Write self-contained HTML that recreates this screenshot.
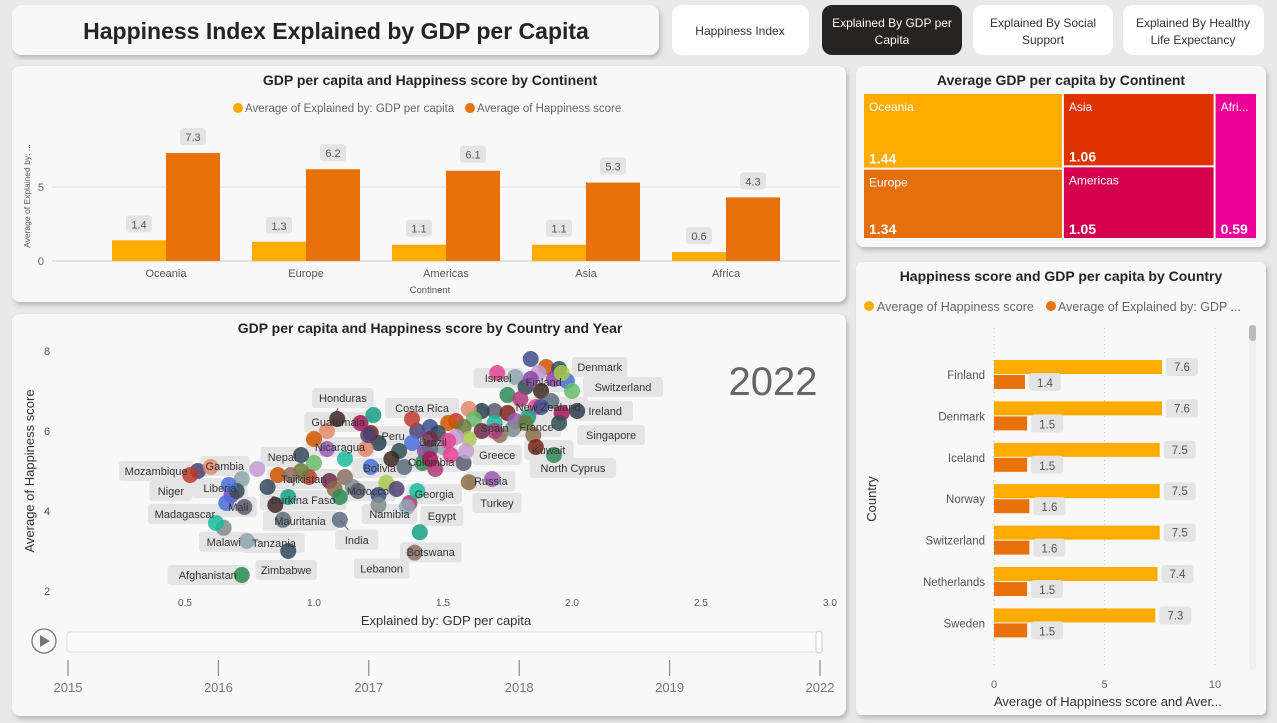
<!DOCTYPE html>
<html><head><meta charset="utf-8">
<style>
html,body{margin:0;padding:0;background:#e9e9e9;width:1277px;height:723px;overflow:hidden;font-family:"Liberation Sans",sans-serif;}
svg{display:block}
text{font-family:"Liberation Sans",sans-serif}
</style></head>
<body>
<svg id="page" width="1277" height="723" viewBox="0 0 1277 723">
<defs>
<filter id="sh" x="-5%" y="-5%" width="110%" height="115%"><feDropShadow dx="2" dy="3" stdDeviation="2.5" flood-color="#000" flood-opacity="0.22"/></filter>
</defs>
<!-- header -->
<g>
<rect x="12" y="5" width="647" height="50" rx="10" fill="#f8f8f8" filter="url(#sh)"/>
<text x="336" y="39" text-anchor="middle" font-size="23" font-weight="bold" fill="#252423">Happiness Index Explained by GDP per Capita</text>
</g>
<g>
<rect x="672" y="5" width="137" height="50" rx="10" fill="#fff"/>
<text x="740" y="35" text-anchor="middle" font-size="12" fill="#333">Happiness Index</text>
</g>
<g>
<rect x="822" y="5" width="140" height="50" rx="10" fill="#252423"/>
<text x="892" y="27" text-anchor="middle" font-size="12" fill="#fff">Explained By GDP per</text>
<text x="892" y="44" text-anchor="middle" font-size="12" fill="#fff">Capita</text>
</g>
<g>
<rect x="973" y="5" width="140" height="50" rx="10" fill="#fff"/>
<text x="1043" y="27" text-anchor="middle" font-size="12" fill="#333">Explained By Social</text>
<text x="1043" y="44" text-anchor="middle" font-size="12" fill="#333">Support</text>
</g>
<g>
<rect x="1123" y="5" width="141" height="50" rx="10" fill="#fff"/>
<text x="1193" y="27" text-anchor="middle" font-size="12" fill="#333">Explained By Healthy</text>
<text x="1193" y="44" text-anchor="middle" font-size="12" fill="#333">Life Expectancy</text>
</g>

<!-- cards -->
<rect x="12" y="66" width="834" height="236" rx="8" fill="#f8f8f8" filter="url(#sh)"/>
<rect x="12" y="314" width="834" height="402" rx="8" fill="#f8f8f8" filter="url(#sh)"/>
<rect x="856" y="66" width="410" height="181" rx="8" fill="#f8f8f8" filter="url(#sh)"/>
<rect x="856" y="262" width="410" height="453" rx="6" fill="#f8f8f8" filter="url(#sh)"/>

<g id="barChart">
<text x="430" y="85" text-anchor="middle" font-size="14" font-weight="bold" fill="#252423">GDP per capita and Happiness score by Continent</text>
<g>
<circle cx="238" cy="108" r="5" fill="#FFAB00"/><text x="245" y="112" font-size="11.5" fill="#666">Average of Explained by: GDP per capita</text>
<circle cx="470" cy="108" r="5" fill="#E8710A"/><text x="477" y="112" font-size="11.5" fill="#666">Average of Happiness score</text>
</g>
<text transform="translate(30,196) rotate(-90)" text-anchor="middle" font-size="8.5" fill="#555">Average of Explained by: ...</text>
<text x="430" y="293" text-anchor="middle" font-size="9.5" fill="#555">Continent</text>
</g>

<g id="treemap">
<text x="1061" y="85" text-anchor="middle" font-size="14" font-weight="bold" fill="#252423">Average GDP per capita by Continent</text>
</g>

<g id="scatter">
<text x="430" y="333" text-anchor="middle" font-size="14" font-weight="bold" fill="#252423">GDP per capita and Happiness score by Country and Year</text>
<text transform="translate(34,471) rotate(-90)" text-anchor="middle" font-size="13" fill="#333">Average of Happiness score</text>
<text x="446" y="625" text-anchor="middle" font-size="13" fill="#333">Explained by: GDP per capita</text>
<text x="773" y="395" text-anchor="middle" font-size="40" fill="#666">2022</text>
<g>
<circle cx="44" cy="641" r="12" fill="none" stroke="#777" stroke-width="1.3"/>
<path d="M40 635 L50 641 L40 647Z" fill="#777"/>
<rect x="67" y="632" width="753" height="20" rx="3" fill="#fafafa" stroke="#ddd"/>
<rect x="816" y="631" width="6" height="22" rx="3" fill="#fff" stroke="#ccc"/>
</g>
</g>

<g id="hbar">
<text x="1061" y="281" text-anchor="middle" font-size="14" font-weight="bold" fill="#252423">Happiness score and GDP per capita by Country</text>
<g>
<circle cx="869" cy="306" r="5" fill="#FFAB00"/><text x="877" y="311" font-size="12.5" fill="#666">Average of Happiness score</text>
<circle cx="1051" cy="306" r="5" fill="#E8710A"/><text x="1058" y="311" font-size="12.5" fill="#666">Average of Explained by: GDP ...</text>
</g>
<text transform="translate(876,499) rotate(-90)" text-anchor="middle" font-size="13" fill="#333">Country</text>
<text x="994" y="706" font-size="13" fill="#333">Average of Happiness score and Aver...</text>
<rect x="1249" y="325" width="7" height="345" rx="3" fill="#f0f0f0"/>
<rect x="1249" y="325" width="7" height="16" rx="3" fill="#bbb"/>
</g>
</svg>
<script>
// ---------- continent bar chart data ----------
const continents = ["Oceania","Europe","Americas","Asia","Africa"];
const gdpByContinent = [1.4,1.3,1.1,1.1,0.6];
const happyByContinent = [7.3,6.2,6.1,5.3,4.3];
const contTicks = [0,5];
// ---------- treemap data ----------
const tmNames = ["Oceania","Europe","Asia","Americas","Africa"];
const tmValues = [1.44,1.34,1.06,1.05,0.59];
const tmColors = ["#FFAB00","#E5700B","#E03200","#D4004D","#EC0096"];
// ---------- country bar data ----------
const countries = ["Finland","Denmark","Iceland","Norway","Switzerland","Netherlands","Sweden"];
const countryHappy = [7.6,7.6,7.5,7.5,7.5,7.4,7.3];
const countryGdp = [1.4,1.5,1.5,1.6,1.6,1.5,1.5];
const countryTicks = [0,5,10];
// ---------- scatter data ----------
const xTicks = [0.5,1.0,1.5,2.0,2.5,3.0];
const yTicks = [2,4,6,8];
const years = ["2015","2016","2017","2018","2019","2022"];
const labeledNames = ["Afghanistan","Zimbabwe","Lebanon","Botswana","India","Egypt","Namibia","Georgia","Morocco","Bolivia","Peru","Costa Rica","Honduras","Guatemala","Nicaragua","Brazil","Colombia","Spain","Greece","Russia","Turkey","Israel","Finland","Denmark","Switzerland","Ireland","Singapore","New Zealand","France","Kuwait","North Cyprus","Nepal","Tajikistan","Burkina Faso","Mauritania","Tanzania","Malawi","Madagascar","Mali","Liberia","Niger","Mozambique","Gambia"];
const labeledGdp = [0.72,0.90,1.39,1.41,1.10,1.36,1.25,1.40,1.17,1.22,1.21,1.38,1.05,1.09,1.00,1.45,1.45,1.70,1.59,1.60,1.69,1.71,1.84,1.96,2.00,2.02,1.95,1.88,1.82,1.86,1.93,0.95,0.91,0.90,0.88,0.74,0.65,0.62,0.73,0.67,0.55,0.52,0.60];
const labeledHappy = [2.40,3.00,2.96,3.47,3.78,4.10,4.15,4.50,4.50,5.10,5.90,6.30,6.00,6.30,5.80,5.80,5.30,6.00,5.50,4.72,4.80,7.45,7.30,7.45,7.00,6.50,6.20,6.60,6.20,5.60,5.40,5.40,4.90,4.35,3.78,3.25,3.58,3.70,4.10,4.65,5.00,4.90,5.10];
const otherGdp = [1.84,1.90,1.95,1.87,1.78,1.93,1.98,1.82,1.88,1.75,1.80,1.92,1.86,1.70,1.65,1.60,1.75,1.96,1.83,1.78,1.70,1.62,1.55,1.58,1.65,1.72,1.85,1.77,1.60,1.40,1.45,1.52,1.48,1.55,1.50,1.43,1.38,1.33,1.30,1.42,1.47,1.35,1.53,1.58,1.25,1.20,1.22,1.18,1.23,1.05,1.12,1.00,0.98,0.95,1.06,1.12,1.08,1.15,1.28,1.32,1.25,0.86,0.82,0.78,0.72,0.68,0.66,0.70,0.85,1.10,1.37,1.45,1.52];
const otherHappy = [7.80,7.60,7.55,7.45,7.35,7.30,7.25,7.10,7.00,6.90,6.80,6.75,6.60,6.50,6.50,6.55,6.45,6.45,6.35,6.25,6.20,6.30,6.25,6.10,6.00,5.90,5.90,6.05,5.80,6.00,6.10,6.20,5.95,5.85,5.60,5.50,5.70,5.50,5.30,5.20,5.05,5.10,5.40,5.20,5.70,5.55,5.95,6.20,6.40,5.55,5.30,5.20,4.85,5.00,4.75,4.85,4.55,4.60,4.70,4.55,4.40,4.90,4.60,5.05,4.80,4.40,4.20,4.50,4.15,4.35,4.20,5.55,5.75];
// layout (not data): label offsets from point, in px
const labelOffsets = [[-34,0],[-2,19],[-33,16],[11,20],[17,20],[35,9],[11,9],[17,3],[10,0],[9,1],[25,1],[10,-11],[16,-33],[1,3],[26,8],[3,3],[1,3],[0,-3],[31,4],[22,-1],[5,24],[1,5],[13,3],[38,-6],[51,-4],[28,0],[52,12],[7,0],[11,4],[13,3],[19,13],[-19,2],[13,4],[15,3],[17,1],[27,2],[0,14],[-31,-9],[-6,0],[-9,3],[-27,20],[-34,-4],[14,-1]];
const palette = ["#3D4F8C","#5A5A6E","#8E6B4A","#2E8B57","#C0392B","#8E44AD","#16A085","#D35400","#2C3E50","#7F8C8D","#B03A7A","#6C7A3A","#4A6FDC","#9B59B6","#34495E","#E08A6B","#A8C94C","#5D6D7E","#6E2C4A","#2F4F4F","#1ABC9C","#C39BD3","#7B241C","#4B3F72","#E84393","#8D6E63","#3E2723","#66BB6A","#90A4AE","#AD1457"];

const NS="http://www.w3.org/2000/svg";
function mk(parent,tag,attrs){const e=document.createElementNS(NS,tag);for(const k in attrs)e.setAttribute(k,attrs[k]);parent.appendChild(e);return e;}
function txt(parent,x,y,s,attrs){const t=mk(parent,"text",Object.assign({x:x,y:y},attrs));t.textContent=s;return t;}

// ---- continent bar chart ----
(function(){
  const g=document.getElementById("barChart");
  const y0=261, pxPerUnit=14.8, x0=96, band=140, bw=54;
  const ys=v=>y0-v*pxPerUnit;
  contTicks.forEach(t=>{
    mk(g,"line",{x1:52,x2:840,y1:ys(t),y2:ys(t),stroke:t===0?"#ccc":"#ddd","stroke-width":1});
    const tl=txt(g,44,ys(t)+4,String(t),{"text-anchor":"end","font-size":11,fill:"#666"});
    
    
  });
  continents.forEach((c,i)=>{
    const cx=x0+band*i+band/2;
    [[gdpByContinent[i],"#FFAB00",cx-bw],[happyByContinent[i],"#E8710A",cx]].forEach((d,j)=>{
      const r=mk(g,"rect",{x:d[2],y:ys(d[0]),width:bw,height:d[0]*pxPerUnit,fill:d[1]});
      
      
      const lx=d[2]+bw/2, ly=ys(d[0])-16;
      mk(g,"rect",{x:lx-13,y:ly-9,width:26,height:17,rx:3,fill:"#e4e4e4"});
      const vl=txt(g,lx,ly+4,d[0].toFixed(1),{"text-anchor":"middle","font-size":11,fill:"#555"});
      
      
    });
    const cl=txt(g,cx,277,c,{"text-anchor":"middle","font-size":11,fill:"#555"});
    
    
  });
})();

// ---- treemap ----
(function(){
  const g=document.getElementById("treemap");
  const X=864,Y=94,W=394,H=146;
  const total=tmValues.reduce((a,b)=>a+b,0);
  const cols=[[0,1],[2,3],[4]];
  let x=X;
  cols.forEach(col=>{
    const cs=col.reduce((a,i)=>a+tmValues[i],0);
    const cw=W*cs/total;
    let y=Y;
    col.forEach(i=>{
      const h=H*tmValues[i]/cs;
      const r=mk(g,"rect",{x:x,y:y,width:cw-2,height:h-2,fill:tmColors[i]});
      
      
      const nm=cw<60?tmNames[i].slice(0,4)+"...":tmNames[i];
      const a=txt(g,x+5,y+17,nm,{"font-size":12,fill:"#fff"});
      
      
      const b=txt(g,x+5,y+h-6,tmValues[i].toFixed(2),{"font-size":14,"font-weight":"bold",fill:"#fff"});
      
      
      y+=h;
    });
    x+=cw;
  });
})();

// ---- scatter ----
(function(){
  const g=document.getElementById("scatter");
  const xs=v=>185+(v-0.5)*258, ys=v=>591-(v-2)*40;
  xTicks.forEach(t=>{const e=txt(g,xs(t),606,t.toFixed(1),{"text-anchor":"middle","font-size":10,fill:"#555"});
    });
  yTicks.forEach(t=>{const e=txt(g,47,ys(t)+4,String(t),{"text-anchor":"middle","font-size":11,fill:"#555"});
    });
  // labels first
  labeledNames.forEach((n,i)=>{
    const px=xs(labeledGdp[i]), py=ys(labeledHappy[i]);
    const lx=px+labelOffsets[i][0], ly=py+labelOffsets[i][1];
    const w=n.length*6.2+12;
    if(Math.abs(labelOffsets[i][1])>15&&Math.abs(labelOffsets[i][0])>12 || n==="Honduras"){
      mk(g,"line",{x1:px,y1:py,x2:lx,y2:ly,stroke:"#666","stroke-width":1});
    }
    mk(g,"rect",{x:lx-w/2,y:ly-10,width:w,height:20,rx:3,fill:"#e4e4e4"});
  });
  otherGdp.forEach((v,i)=>{
    const c=mk(g,"circle",{cx:xs(v),cy:ys(otherHappy[i]),r:8,fill:palette[(i*7)%palette.length],"fill-opacity":0.85});
    
    
  });
  labeledNames.forEach((n,i)=>{
    const c=mk(g,"circle",{cx:xs(labeledGdp[i]),cy:ys(labeledHappy[i]),r:8,fill:palette[(i*11+3)%palette.length],"fill-opacity":0.85});
    
    
  });
  labeledNames.forEach((n,i)=>{
    const px=xs(labeledGdp[i]), py=ys(labeledHappy[i]);
    const t=txt(g,px+labelOffsets[i][0],py+labelOffsets[i][1]+4,n,{"text-anchor":"middle","font-size":11,fill:"#333"});
    
    
  });
  // play axis years
  years.forEach((y,i)=>{
    const x=68+i*150.4;
    mk(g,"line",{x1:x,x2:x,y1:660,y2:676,stroke:"#888","stroke-width":1.2});
    const t=txt(g,x,692,y,{"text-anchor":"middle","font-size":13,fill:"#777"});
    
    
  });
})();

// ---- country horizontal bar ----
(function(){
  const g=document.getElementById("hbar");
  const xs=v=>994+v*22.1;
  countryTicks.forEach(t=>{
    mk(g,"line",{x1:xs(t),x2:xs(t),y1:328,y2:668,stroke:"#ccc","stroke-dasharray":"1,3"});
    const e=txt(g,xs(t),688,String(t),{"text-anchor":"middle","font-size":11,fill:"#666"});
    
  });
  countries.forEach((c,i)=>{
    const yc=375+i*41.4;
    const l=txt(g,985,yc+4,c,{"text-anchor":"end","font-size":11.5,fill:"#555"});
    
    const b1=mk(g,"rect",{x:xs(0),y:yc-15,width:countryHappy[i]*22.1,height:14,fill:"#FFAB00"});
    
    
    const b2=mk(g,"rect",{x:xs(0),y:yc,width:countryGdp[i]*22.1,height:14,fill:"#E8710A"});
    
    
    const hx=xs(countryHappy[i])+4;
    mk(g,"rect",{x:hx,y:yc-17,width:32,height:18,rx:3,fill:"#e4e4e4"});
    const v1=txt(g,hx+16,yc-4,countryHappy[i].toFixed(1),{"text-anchor":"middle","font-size":11.5,fill:"#555"});
    
    const gx=xs(countryGdp[i])+4;
    mk(g,"rect",{x:gx,y:yc-2,width:32,height:18,rx:3,fill:"#e4e4e4"});
    const v2=txt(g,gx+16,yc+12,countryGdp[i].toFixed(1),{"text-anchor":"middle","font-size":11.5,fill:"#555"});
    
  });
})();
</script>
</body></html>
